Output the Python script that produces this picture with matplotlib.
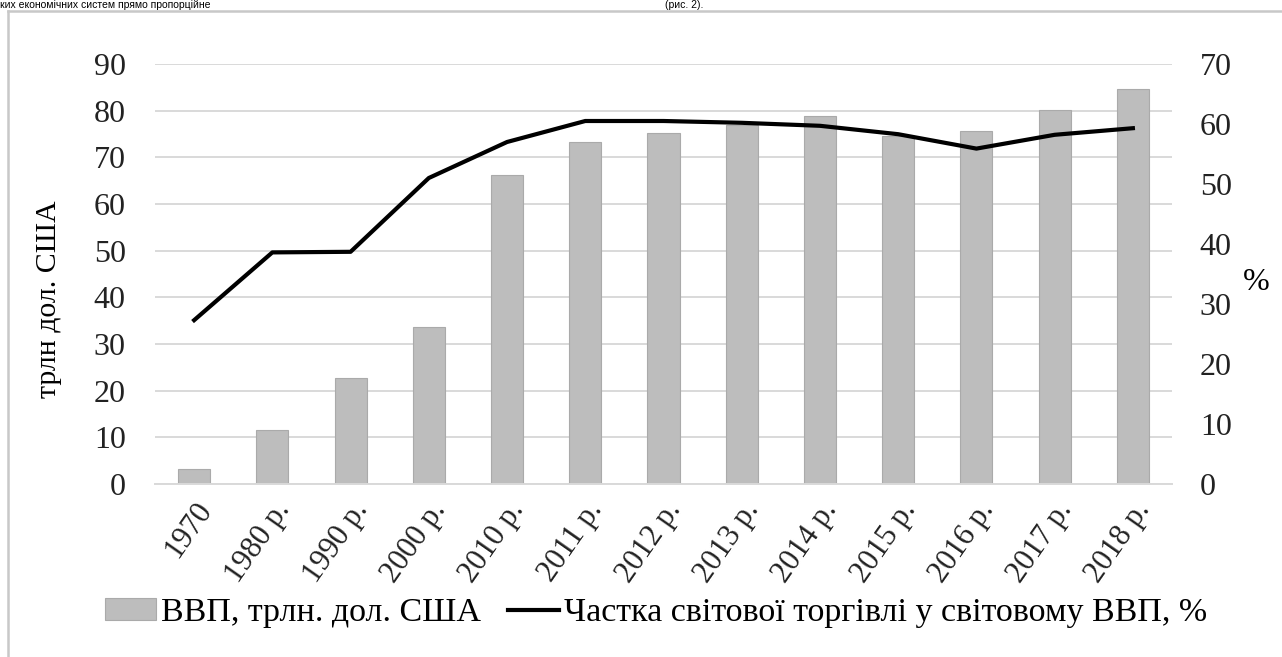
import matplotlib

matplotlib.use("Agg")
import matplotlib.pyplot as plt
from matplotlib.patches import Rectangle
from matplotlib.lines import Line2D
import numpy as np

years = ["1970", "1980 р.", "1990 р.", "2000 р.", "2010 р.", "2011 р.", "2012 р.",
         "2013 р.", "2014 р.", "2015 р.", "2016 р.", "2017 р.", "2018 р."]
gdp = [3.3, 11.5, 22.8, 33.6, 66.2, 73.3, 75.2, 77.0, 78.9, 74.5, 75.7, 80.1, 84.7]
trade_share = [27.3, 38.6, 38.7, 51.0, 57.0, 60.5, 60.5, 60.2, 59.7, 58.3, 55.9, 58.2, 59.3]

BAR = "#bdbdbd"
GRID = "#d9d9d9"
plt.rcParams["font.family"] = ["Liberation Serif", "DejaVu Serif"]

W, H = 1282, 657
fig = plt.figure(figsize=(W / 100, H / 100), dpi=100)

# line of document text above the chart (cut off in the source scan)
SANS = ["Liberation Sans", "DejaVu Sans"]
fig.text(0, 1, "ких економічних систем прямо пропорційне", fontsize=7.5,
         family=SANS, va="top")
fig.text(665 / W, 1, "(рис. 2).", fontsize=7.5, family=SANS, va="top")

# chart frame (left and top edges visible)
fig.add_artist(Line2D([8 / W, 8 / W], [0, 1 - 11 / H], transform=fig.transFigure,
                      color="#c8c8c8", lw=1.8))
fig.add_artist(Line2D([8 / W, 1], [1 - 11 / H, 1 - 11 / H], transform=fig.transFigure,
                      color="#c8c8c8", lw=1.8))

ax = fig.add_axes([155 / W, 1 - 484 / H, (1172 - 155) / W, (484 - 64) / H])
x = np.arange(len(years))
ax.bar(x, gdp, width=0.41, color=BAR, edgecolor="#aaaaaa", linewidth=0.8, zorder=2)
ax.set_xlim(-0.5, len(years) - 0.5)
ax.set_ylim(0, 90)
ax.set_yticks(range(0, 91, 10))
ax.yaxis.grid(True, color=GRID, lw=1.4)
ax.set_axisbelow(True)
for s in ["top", "right", "left"]:
    ax.spines[s].set_visible(False)
ax.spines["bottom"].set_color(GRID)
ax.spines["bottom"].set_linewidth(1.4)
ax.tick_params(length=0, labelsize=23, colors="#222222")
ax.tick_params(axis="y", pad=21)
ax.tick_params(axis="x", pad=9, labelsize=22)
ax.set_xticks(x)
ax.set_xticklabels(years, rotation=55, ha="right", rotation_mode="anchor")
ax.set_ylabel("трлн дол. США", fontsize=21.5)
ax.yaxis.set_label_coords(-93 / (1172 - 155), 0.44)

ax2 = ax.twinx()
ax2.plot(x, trade_share, color="black", lw=3, solid_joinstyle="round", zorder=3)
ax2.set_ylim(0, 70)
ax2.set_yticks(range(0, 71, 10))
for s in ax2.spines.values():
    s.set_visible(False)
ax2.tick_params(length=0, labelsize=23, colors="#222222", pad=20)
ax2.set_ylabel("%", fontsize=23, rotation=0, va="center")
ax2.yaxis.set_label_coords(1 + 84 / (1172 - 155), 0.48)

handles = [Rectangle((0, 0), 1, 1, facecolor=BAR, edgecolor="#aaaaaa", lw=0.8),
           Line2D([0], [0], color="black", lw=3)]
labels = ["ВВП, трлн. дол. США", "Частка світової торгівлі у світовому ВВП, %"]
fig.legend(handles, labels, loc="center", bbox_to_anchor=(656 / W, 1 - 613 / H),
           ncol=2, frameon=False, fontsize=24.5, handlelength=1.5, handletextpad=0.15,
           columnspacing=0.8, handleheight=0.6)

fig.savefig("out.png", dpi=100)
